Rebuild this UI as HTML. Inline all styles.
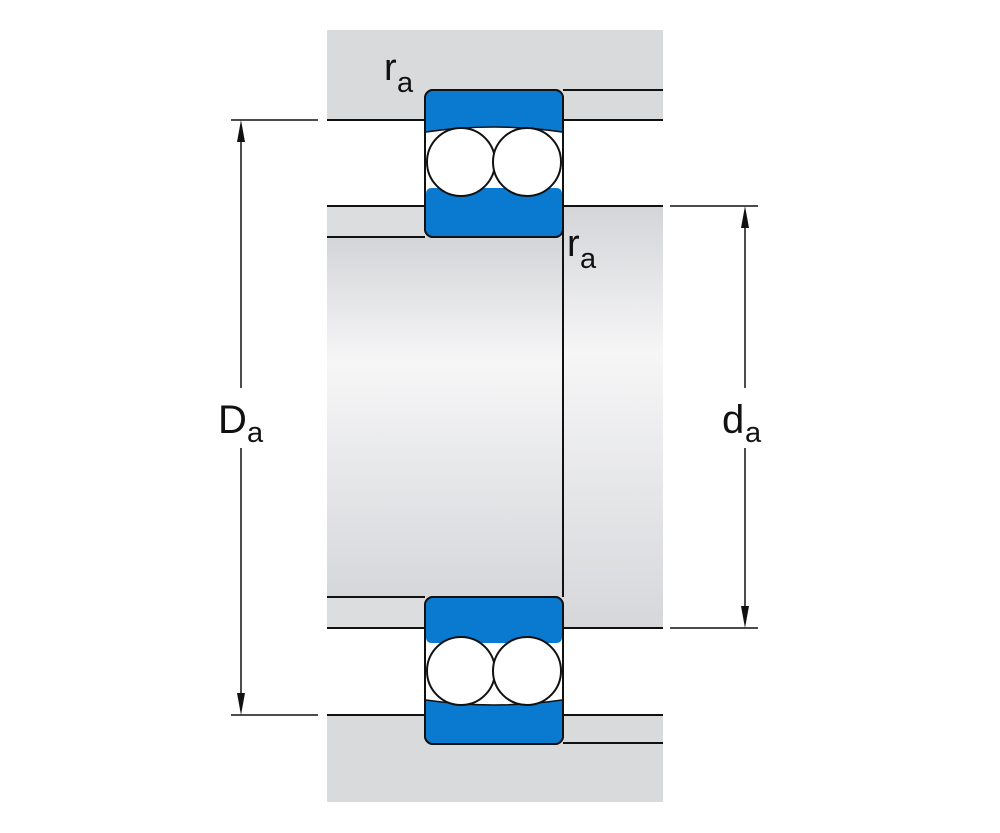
<!DOCTYPE html>
<html><head><meta charset="utf-8"><style>
html,body{margin:0;padding:0;background:#fff;}
svg{display:block}
text{font-family:"Liberation Sans",sans-serif;fill:#111}
</style></head><body>
<svg width="1000" height="833" viewBox="0 0 1000 833" xmlns="http://www.w3.org/2000/svg">
<defs>
<linearGradient id="sh" x1="0" y1="0" x2="0" y2="1">
<stop offset="0" stop-color="#d4d5d8"/><stop offset="0.35" stop-color="#f6f6f7"/><stop offset="1" stop-color="#d6d7da"/>
</linearGradient>
</defs>
<rect x="327" y="30" width="336" height="90" fill="#d9dadc"/>
<rect x="327" y="715" width="336" height="87" fill="#d9dadc"/>
<rect x="327" y="206" width="336" height="422" fill="#dcdddf"/>
<rect x="327" y="237" width="236" height="360" fill="url(#sh)"/>
<rect x="563" y="206" width="100" height="422" fill="url(#sh)"/>
<g stroke="#111" stroke-width="2" fill="none">
<line x1="327" y1="120" x2="425" y2="120"/>
<line x1="563" y1="90" x2="663" y2="90"/>
<line x1="563" y1="120" x2="663" y2="120"/>
<line x1="327" y1="206" x2="425" y2="206"/>
<line x1="563" y1="206" x2="663" y2="206"/>
<line x1="327" y1="237" x2="425" y2="237"/>
<line x1="563" y1="206" x2="563" y2="597"/>
<line x1="327" y1="597" x2="425" y2="597"/>
<line x1="327" y1="628" x2="425" y2="628"/>
<line x1="563" y1="628" x2="663" y2="628"/>
<line x1="327" y1="715" x2="425" y2="715"/>
<line x1="563" y1="715" x2="663" y2="715"/>
<line x1="563" y1="743" x2="663" y2="743"/>
</g>
<g stroke="#111" stroke-width="2">
<rect x="425" y="90" width="138" height="147" rx="8" fill="#fff"/>
<path d="M426,132 L426,98 Q426,91 433,91 L555,91 Q562,91 562,98 L562,132 Q494,122 426,132 Z" fill="#0a7ad0" stroke="none"/>
<path d="M426,132 Q494,122 562,132" fill="none" stroke-width="1.5"/>
<path d="M426,194 Q426,188 432,188 L556,188 Q562,188 562,194 L562,229 Q562,236 555,236 L433,236 Q426,236 426,229 Z" fill="#0a7ad0" stroke="none"/>
<circle cx="461" cy="162" r="34" fill="#fff"/>
<circle cx="527" cy="162" r="34" fill="#fff"/>
<rect x="425" y="90" width="138" height="147" rx="8" fill="none"/>
</g>
<g stroke="#111" stroke-width="2">
<rect x="425" y="597" width="138" height="147" rx="8" fill="#fff"/>
<path d="M426,637 L426,605 Q426,598 433,598 L555,598 Q562,598 562,605 L562,637 Q562,643 556,643 L432,643 Q426,643 426,637 Z" fill="#0a7ad0" stroke="none"/>
<path d="M426,700 Q494,710 562,700 L562,736 Q562,743 555,743 L433,743 Q426,743 426,736 Z" fill="#0a7ad0" stroke="none"/>
<path d="M426,700 Q494,710 562,700" fill="none" stroke-width="1.5"/>
<circle cx="461" cy="671" r="34" fill="#fff"/>
<circle cx="527" cy="671" r="34" fill="#fff"/>
<rect x="425" y="597" width="138" height="147" rx="8" fill="none"/>
</g>
<g stroke="#111" stroke-width="1.5">
<line x1="231" y1="120" x2="318" y2="120"/>
<line x1="231" y1="715" x2="318" y2="715"/>
<line x1="241" y1="135" x2="241" y2="388"/>
<line x1="241" y1="448" x2="241" y2="700"/>
<line x1="670" y1="206" x2="758" y2="206"/>
<line x1="670" y1="628" x2="758" y2="628"/>
<line x1="745" y1="221" x2="745" y2="388"/>
<line x1="745" y1="448" x2="745" y2="613"/>
</g>
<g fill="#111">
<path d="M241,120 L237,142 L245,142 Z"/>
<path d="M241,715 L237,693 L245,693 Z"/>
<path d="M745,206 L741,228 L749,228 Z"/>
<path d="M745,628 L741,606 L749,606 Z"/>
</g>
<text x="218" y="433" font-size="40">D</text><text x="247" y="442" font-size="29">a</text>
<text x="722" y="433" font-size="40">d</text><text x="745" y="442" font-size="29">a</text>
<text x="384" y="80" font-size="38">r</text><text x="397" y="92" font-size="29">a</text>
<text x="567" y="256" font-size="38">r</text><text x="580" y="268" font-size="29">a</text>
</svg>
</body></html>
